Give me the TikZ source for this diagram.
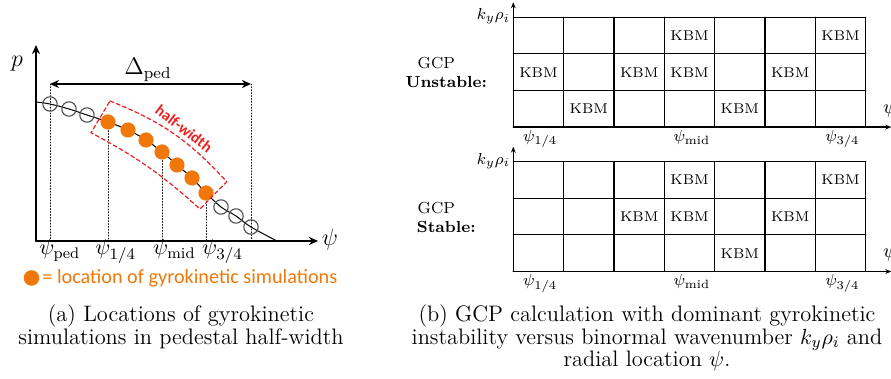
\documentclass[tikz,border=0pt]{standalone}
\usepackage{fontspec}
\newfontfamily\calibri{Carlito}
\usetikzlibrary{arrows.meta,calc}
\definecolor{simorange}{RGB}{240,120,10}
\definecolor{boxred}{RGB}{240,30,30}

\tikzset{
  ghost/.style={circle,draw=black!70,line width=0.55pt,minimum size=7.2pt,inner sep=0pt},
  sim/.style={circle,fill=simorange,minimum size=7.6pt,inner sep=0pt},
  guide/.style={densely dotted,line width=0.45pt},
  axis/.style={line width=0.8pt,-{Stealth[length=4.5pt,width=4pt]}},
  gridline/.style={line width=0.6pt},
  smallaxis/.style={line width=0.6pt,-{Stealth[length=3pt,width=2.4pt]}},
  kbm/.style={font=\fontsize{7.1}{8}\selectfont},
  tick/.style={anchor=base west,inner sep=0pt,font=\fontsize{11}{13}\selectfont},
  gridtick/.style={anchor=base west,inner sep=0pt,font=\fontsize{8}{9}\selectfont},
  gcp/.style={anchor=base,font=\fontsize{8}{9}\selectfont},
  caption/.style={align=center,font=\fontsize{11.2}{11.25}\selectfont}
}

\begin{document}
\begin{tikzpicture}[x=0.5pt,y=-0.5pt,line cap=round,line join=round]
  \useasboundingbox (0,0) rectangle (891,379);

  % (a) pressure profile with simulation points
  \coordinate (o) at (36,241);
  \draw[axis] (o) -- (36,45);
  \draw[axis] (o) -- (318,241);
  \node[font=\fontsize{12}{14}\selectfont] (plab) at (17,64) {$p$};
  \node[font=\fontsize{12}{14}\selectfont] (psilab) at (330,240) {$\psi$};

  \foreach \n/\x/\y in {p0/36/102,p1/50/104,p2/69/109,p3/87/115,p4/108/122,
      p5/128/130,p6/146/140,p7/162/152,p8/177/165,p9/192/178,p10/206/193,
      p11/221/207,p12/236/216,p13/251/227,p14/277/241}
    \coordinate (\n) at (\x,\y);

  \coordinate (dl) at (50,84);
  \coordinate (dr) at (251,84);
  \draw[guide] (dl) -- (dl |- o);
  \draw[guide] (dr) -- (dr |- o);
  \foreach \i in {4,7,10}
    \draw[guide] (p\i) -- (p\i |- o);
  \draw[line width=0.8pt,{Stealth[length=4.5pt,width=4pt]}-{Stealth[length=4.5pt,width=4pt]}] (dl) -- (dr);
  \node[font=\fontsize{11.5}{13}\selectfont] (delta) at (148,70) {$\Delta_{\mathrm{ped}}$};

  \draw[line width=0.5pt] plot[smooth,tension=0.6] coordinates {(p0) (p1) (p2) (p3) (p4) (p5) (p6) (p7) (p8) (p9) (p10) (p11) (p12) (p13) (p14)};
  \foreach \i in {1,2,3,11,12,13}
    \node[ghost] (g\i) at (p\i) {};
  \foreach \i in {4,...,10}
    \node[sim] (s\i) at (p\i) {};

  \draw[boxred,dashed,dash pattern=on 2pt off 1.4pt,line width=0.6pt]
    (110,101) to[bend left=13] (226.7,181.7) -- (200,209) to[bend right=7] (91,132.7) -- cycle;
  \node[rotate=-37.5,text=boxred,font=\calibri\bfseries\fontsize{7.8}{9}\selectfont] (hw) at (184,128.5) {half-width};

  \node[tick] (tped) at (39,255) {$\psi_{\mathrm{ped}}$};
  \node[tick] (tq1) at (95,255) {$\psi_{1/4}$};
  \node[tick] (tmid) at (152.7,255) {$\psi_{\mathrm{mid}}$};
  \node[tick] (tq3) at (201.7,255) {$\psi_{3/4}$};

  \node[sim,minimum size=7.8pt] (key) at (31.5,278) {};
  \node[anchor=base west,inner sep=0pt,text=simorange,font=\calibri\fontsize{10.1}{12}\selectfont] (keytext) at (42,284) {= location of gyrokinetic simulations};

  % (b) dominant instability grids
  \foreach \panel/\top/\word/\cells in {
      u/17.3/Unstable:/{4/1,7/1,1/2,3/2,4/2,6/2,2/3,5/3},
      s/161.7/Stable:/{4/1,7/1,3/2,4/2,6/2,5/3}} {
    \begin{scope}[shift={(513.3,\top)}]
      \foreach \i in {0,...,7}
        \draw[gridline] (\i*50.35,0) -- (\i*50.35,109.8);
      \foreach \j in {0,...,3}
        \draw[gridline] (0,\j*36.6) -- (352.45,\j*36.6);
      \draw[smallaxis] (0,109.8) -- (378,109.8);
      \draw[smallaxis] (0,109.8) -- (0,-15);
      \foreach \c/\r in \cells
        \node[kbm] (\panel\c\r) at ({(\c-0.5)*50.35},{(\r-0.5)*36.6}) {KBM};
      \node[anchor=east,inner sep=0pt,font=\fontsize{8}{9}\selectfont] (\panel ky) at (-3,-1) {$k_y\rho_i$};
      \node[anchor=west,inner sep=0pt,font=\fontsize{10}{12}\selectfont] (\panel psi) at (369.5,91) {$\psi$};
      \node[gridtick] (\panel q1) at (9.5,124) {$\psi_{1/4}$};
      \node[gridtick] (\panel mid) at (160,124) {$\psi_{\mathrm{mid}}$};
      \node[gridtick] (\panel q3) at (311.7,124) {$\psi_{3/4}$};
      \node[gcp] (\panel gcp) at (-77,51.5) {GCP};
      \node[gcp,font=\fontsize{8}{9}\selectfont\bfseries] (\panel word) at (-67,70.5) {\word};
    \end{scope}
  }

  % captions
  \node[caption,anchor=base] (capa) at (181,344.5) {(a) Locations of gyrokinetic\\simulations in pedestal half-width};
  \node[caption,anchor=base] (capb) at (647,367) {(b) GCP calculation with dominant gyrokinetic\\instability versus binormal wavenumber $k_y\rho_i$ and\\radial location $\psi$.};
\end{tikzpicture}
\end{document}
